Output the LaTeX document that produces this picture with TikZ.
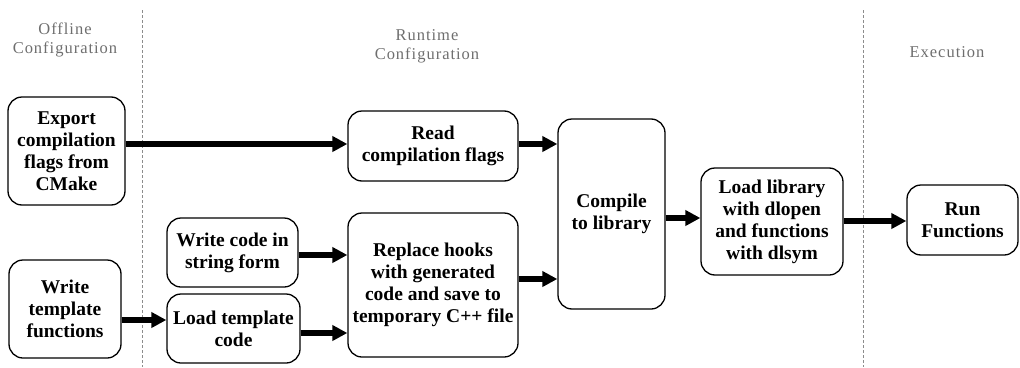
\documentclass[tikz,border=0pt]{standalone}
\usepackage{fontspec}
\setmainfont{Liberation Serif}
\usetikzlibrary{arrows.meta}
\definecolor{hdrgray}{RGB}{110,110,110}
\definecolor{sepgray}{RGB}{140,140,140}
\begin{document}
\begin{tikzpicture}[x=1pt,y=1pt,
  stepbox/.style={draw, line width=1.3pt, rounded corners=14pt, align=center,
    font=\fontsize{19.5}{22}\selectfont\bfseries, inner sep=0pt,
    execute at begin node={\rule{0pt}{19.5pt}}},
  header/.style={align=center, text=hdrgray,
    font=\fontsize{16.5}{19}\selectfont\addfontfeature{LetterSpace=6}},
  sep/.style={draw=sepgray, line width=0.8pt, dash pattern=on 3pt off 2pt},
  flow/.style={line width=5.5pt, -{Triangle[length=15pt,width=15pt]}}]
\useasboundingbox (0,0) rectangle (1020,-367);

% phase headings
\node[header] (hoff) at (65,-40) {Offline\\Configuration};
\node[header] (hrun) at (427,-46) {Runtime\\Configuration};
\node[header] (hexe) at (947,-52) {Execution};

% phase separators
\coordinate (s1t) at (142,-10);
\coordinate (s1b) at (142,-367);
\coordinate (s2t) at (863,-10);
\coordinate (s2b) at (863,-367);
\draw[sep] (s1t) -- (s1b);
\draw[sep] (s2t) -- (s2b);

% steps
\node[stepbox, minimum width=117pt, minimum height=108pt] (exp) at (66.5,-151)
  {Export\\compilation\\flags from\\CMake};
\node[stepbox, minimum width=112pt, minimum height=98pt] (wtf) at (65,-309)
  {Write\\template\\functions};
\node[stepbox, minimum width=131pt, minimum height=69pt] (wcs) at (232.5,-252.5)
  {Write code in\\string form};
\node[stepbox, minimum width=133pt, minimum height=69pt] (ltc) at (233.5,-328.5)
  {Load template\\code};
\node[stepbox, minimum width=170pt, minimum height=70pt] (rcf) at (433,-146)
  {Read\\compilation flags};
\node[stepbox, minimum width=170pt, minimum height=144pt] (rep) at (433,-285)
  {Replace hooks\\with generated\\code and save to\\temporary C++ file};
\node[stepbox, minimum width=107pt, minimum height=190pt] (cmp) at (611.5,-214)
  {Compile\\to library};
\node[stepbox, minimum width=142pt, minimum height=107pt] (lib) at (772,-221.5)
  {Load library\\with dlopen\\and functions\\with dlsym};
\node[stepbox, minimum width=111pt, minimum height=70pt] (run) at (962.5,-220)
  {Run\\Functions};

% connector heights
\coordinate (ya) at (0,-144);
\coordinate (yb) at (0,-255);
\coordinate (yc) at (0,-333);
\coordinate (yd) at (0,-320);
\coordinate (ye) at (0,-279);
\coordinate (yf) at (0,-218);
\coordinate (yg) at (0,-221);

% connectors
\draw[flow] (exp.east |- ya) -- (rcf.west |- ya);
\draw[flow] (rcf.east |- ya) -- (cmp.west |- ya);
\draw[flow] (wtf.east |- yd) -- (ltc.west |- yd);
\draw[flow] (wcs.east |- yb) -- (rep.west |- yb);
\draw[flow] (ltc.east |- yc) -- (rep.west |- yc);
\draw[flow] (rep.east |- ye) -- (cmp.west |- ye);
\draw[flow] (cmp.east |- yf) -- (lib.west |- yf);
\draw[flow] (lib.east |- yg) -- (run.west |- yg);
\end{tikzpicture}
\end{document}
